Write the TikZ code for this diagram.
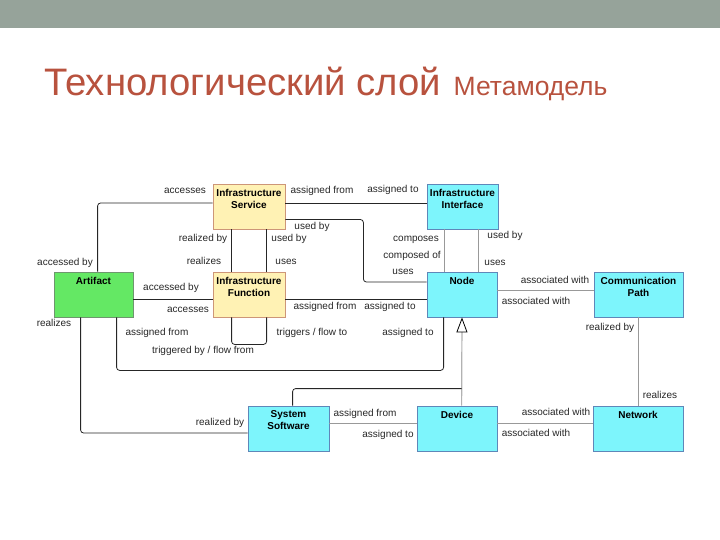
\documentclass[tikz,border=0pt]{standalone}
\usepackage{fontspec}
\setmainfont{Liberation Sans}
\usetikzlibrary{positioning,arrows.meta}
\definecolor{barcol}{RGB}{150,163,154}
\definecolor{titlecol}{RGB}{184,82,62}
\definecolor{yel}{RGB}{255,242,180}
\definecolor{yelline}{RGB}{205,150,120}
\definecolor{cya}{RGB}{125,245,252}
\definecolor{cyaline}{RGB}{95,135,185}
\definecolor{grn}{RGB}{100,232,100}
\definecolor{grnline}{RGB}{110,150,110}
\tikzset{
  box/.style={draw, line width=0.8pt, minimum height=45pt, inner sep=0pt},
  boxtext/.style={anchor=north, align=center, inner sep=5pt, font=\bfseries\fontsize{10}{12}\selectfont},
  lbl/.style={inner sep=0pt, text height=7pt, text depth=2pt, text=black!85, font=\fontsize{10}{12}\selectfont},
  link/.style={line width=0.8pt, black!85, rounded corners=3pt},
  assoc/.style={line width=0.6pt, black!40},
  gen/.style={line width=1.2pt, black!30, -{Triangle[open, length=15pt, width=11pt, line width=0.8pt, black]}}
}

\begin{document}
\begin{tikzpicture}[x=1pt, y=-1pt]
\useasboundingbox (0,0) rectangle (720,540);

% Header bar and title
\fill[barcol] (0,0) rectangle (720,28);
\node[anchor=base west, inner sep=0pt, text=titlecol, font=\fontsize{38.3}{42}\selectfont] (title) at (44,96) {Технологический слой};
\node[anchor=base west, inner sep=0pt, text=titlecol, font=\fontsize{26.5}{28}\selectfont] (subtitle) at ([xshift=12pt]title.base east) {Метамодель};

% Element boxes
\node[box, fill=yel, draw=yelline, minimum width=72pt, label={[boxtext]north:Infrastructure\\Service}] (isv) at (249,206.5) {};
\node[box, fill=cya, draw=cyaline, minimum width=71pt, label={[boxtext]north:Infrastructure\\Interface}] (ifc) at (462.5,206.5) {};
\node[box, fill=grn, draw=grnline, minimum width=79pt, label={[boxtext]north:Artifact}] (art) at (93.5,294.5) {};
\node[box, fill=yel, draw=yelline, minimum width=72pt, label={[boxtext]north:Infrastructure\\Function}] (ifn) at (249,294.5) {};
\node[box, fill=cya, draw=cyaline, minimum width=70pt, label={[boxtext]north:Node}] (nod) at (462,294.5) {};
\node[box, fill=cya, draw=cyaline, minimum width=89pt, label={[boxtext]north:Communication\\Path}] (cmp) at (638.5,294.5) {};
\node[box, fill=cya, draw=cyaline, minimum width=81pt, label={[boxtext]north:System\\Software}] (sys) at (288.5,428.5) {};
\node[box, fill=cya, draw=cyaline, minimum width=80pt, label={[boxtext]north:Device}] (dev) at (457,428.5) {};
\node[box, fill=cya, draw=cyaline, minimum width=90pt, label={[boxtext]north:Network}] (net) at (638,428.5) {};

% Relations of the artifact
\draw[link] ([xshift=44pt]art.north west) |- ([yshift=3.5pt]isv.west);
\draw[link] ([yshift=-4.5pt]art.east) -- ([yshift=-4.5pt]ifn.west);
\draw[link] ([xshift=63pt]art.south west) -- ++(0,53) -| ([xshift=17pt]nod.south west);
\draw[link] ([xshift=27pt]art.south west) |- ([yshift=-4.5pt]sys.west);

% Relations of service and function
\draw[link] ([yshift=3.5pt]isv.east) -- ([yshift=3.5pt]ifc.west);
\draw[link] ([yshift=-13pt]isv.east) -- ++(78,0) |- ([yshift=12.5pt]nod.west);
\draw[link] ([xshift=19pt]isv.south west) -- ([xshift=19pt]ifn.north west);
\draw[link] ([xshift=54pt]isv.south west) -- ([xshift=54pt]ifn.north west);
\draw[link] ([yshift=-4.5pt]ifn.east) -- ([yshift=-4.5pt]nod.west);
\draw[link] ([xshift=19pt]ifn.south west) -- ++(0,27) -| ([xshift=54pt]ifn.south west);

% Interface, node and network relations
\draw[assoc] ([xshift=18pt]ifc.south west) -- ([xshift=18pt]nod.north west);
\draw[assoc] ([xshift=52pt]ifc.south west) -- ([xshift=52pt]nod.north west);
\draw[assoc] ([yshift=4.5pt]nod.east) -- ([yshift=4.5pt]cmp.west);
\draw[assoc] (cmp.south) -- (cmp.south |- net.north);
\draw[assoc] ([yshift=5.5pt]sys.east) -- ([yshift=5.5pt]dev.west);
\draw[assoc] ([yshift=5.5pt]dev.east) -- ([yshift=5.5pt]net.west);

% Specialisations of the node
\draw[gen] ([xshift=45pt]dev.north west) -- (nod.south);
\draw[link] ([xshift=45pt]sys.north west) |- ([xshift=45pt, yshift=17pt]dev.north west);

% Role labels
\node[lbl] (l-acc1) at (185,191) {accesses};
\node[lbl] (l-accby1) at (65,263) {accessed by};
\node[lbl] (l-realby1) at (203,239) {realized by};
\node[lbl] (l-real1) at (204,262) {realizes};
\node[lbl] (l-asgfr1) at (322,191) {assigned from};
\node[lbl] (l-asgto1) at (393,190) {assigned to};
\node[lbl] (l-usedby1) at (312,227) {used by};
\node[lbl] (l-usedby2) at (289,239) {used by};
\node[lbl] (l-uses2) at (286,262) {uses};
\node[lbl] (l-comp) at (416,239) {composes};
\node[lbl] (l-compof) at (412,256) {composed of};
\node[lbl] (l-uses1) at (403,272) {uses};
\node[lbl] (l-usedby3) at (505,236) {used by};
\node[lbl] (l-uses3) at (495,263) {uses};
\node[lbl] (l-assw1) at (555,281) {associated with};
\node[lbl] (l-assw2) at (536,302) {associated with};
\node[lbl] (l-accby2) at (171,288) {accessed by};
\node[lbl] (l-acc2) at (188,310) {accesses};
\node[lbl] (l-real2) at (54,324) {realizes};
\node[lbl] (l-asgfr2) at (157,333) {assigned from};
\node[lbl] (l-trigby) at (203,351) {triggered by / flow from};
\node[lbl] (l-asgfr3) at (325,307) {assigned from};
\node[lbl] (l-asgto3) at (390,307) {assigned to};
\node[lbl] (l-trig) at (312,333) {triggers / flow to};
\node[lbl] (l-asgto2) at (408,333) {assigned to};
\node[lbl] (l-realby2) at (220,423) {realized by};
\node[lbl] (l-asgfr4) at (365,414) {assigned from};
\node[lbl] (l-asgto4) at (388,435) {assigned to};
\node[lbl] (l-assw3) at (556,413) {associated with};
\node[lbl] (l-assw4) at (536,434) {associated with};
\node[lbl] (l-real3) at (660,396) {realizes};
\node[lbl] (l-realby3) at (610,328) {realized by};

\end{tikzpicture}
\end{document}
